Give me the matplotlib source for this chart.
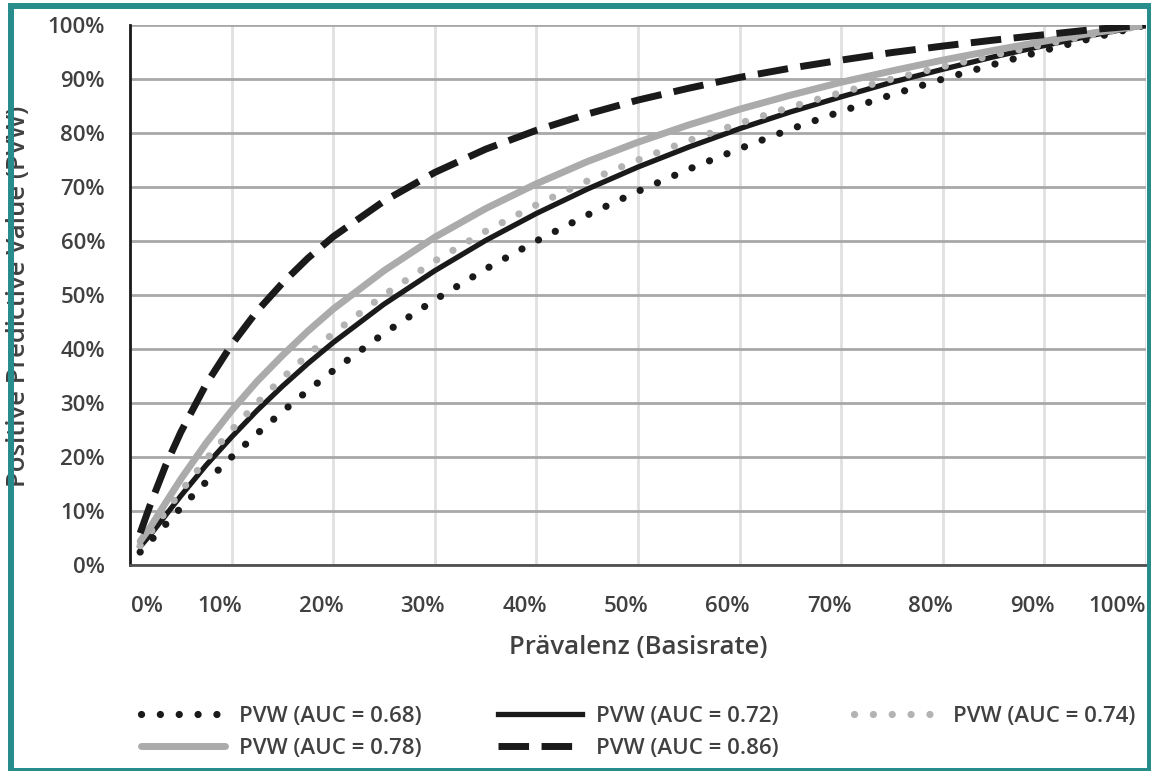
import matplotlib
matplotlib.use('Agg')
from matplotlib import pyplot as plt
from matplotlib.patches import Rectangle
from matplotlib.transforms import ScaledTranslation

prevalence = [0.01, 0.02, 0.035, 0.05, 0.075, 0.10, 0.125, 0.15, 0.175, 0.20,
              0.25, 0.30, 0.35, 0.40, 0.45, 0.50, 0.55, 0.60, 0.65, 0.70,
              0.75, 0.80, 0.85, 0.90, 0.95, 1.00]

# PVW-Werte (in Prozent)
pvw_068 = [2.4, 4.4, 7.5, 10.6, 15.4, 20.0, 24.3, 28.4, 32.3, 36.0,
           42.9, 49.1, 54.8, 60.0, 64.8, 69.2, 73.3, 77.1, 80.7, 84.0,
           87.1, 90.0, 92.7, 95.3, 97.7, 100.0]
pvw_072 = [3.4, 5.6, 9.2, 12.8, 18.5, 23.7, 28.6, 33.1, 37.3, 41.2,
           48.3, 54.5, 60.1, 65.1, 69.6, 73.7, 77.4, 80.8, 83.9, 86.7,
           89.4, 91.8, 94.1, 96.2, 98.2, 100.0]
pvw_074 = [3.6, 6.0, 9.8, 13.6, 19.6, 25.0, 30.0, 34.6, 38.9, 42.9,
           50.0, 56.3, 61.8, 66.7, 71.1, 75.0, 78.6, 81.8, 84.8, 87.5,
           90.0, 92.3, 94.4, 96.4, 98.3, 100.0]
pvw_078 = [4.4, 7.0, 11.5, 15.9, 22.6, 28.6, 34.0, 38.8, 43.3, 47.4,
           54.5, 60.7, 66.0, 70.6, 74.7, 78.3, 81.5, 84.4, 87.0, 89.4,
           91.5, 93.5, 95.3, 97.0, 98.6, 100.0]
pvw_086 = [5.9, 11.2, 18.4, 24.6, 33.5, 40.8, 47.0, 52.2, 56.8, 60.8,
           67.4, 72.7, 77.0, 80.5, 83.5, 86.1, 88.3, 90.3, 92.0, 93.5,
           94.9, 96.1, 97.2, 98.2, 99.2, 100.0]

x_ticks = [0, 10, 20, 30, 40, 50, 60, 70, 80, 90, 100]
y_ticks = [0, 10, 20, 30, 40, 50, 60, 70, 80, 90, 100]
x_labels = [f'{v}%' for v in x_ticks]
y_labels = [f'{v}%' for v in y_ticks]

TEXT = '#404040'
BLACK = '#1a1a1a'
GREY = '#ababab'
TEAL = '#268c8c'

plt.rcParams['font.family'] = ['Open Sans', 'DejaVu Sans']

fig = plt.figure(figsize=(11.51, 7.71), dpi=100)
ax = fig.add_axes([130 / 1151, 1 - 565 / 771, 1016 / 1151, 540 / 771])

xs = [p * 100 for p in prevalence]
h068, = ax.plot(xs, pvw_068, color=BLACK, lw=5.2, linestyle=(0, (0.01, 2.6)),
                dash_capstyle='round', label='PVW (AUC = 0.68)', zorder=3)
h072, = ax.plot(xs, pvw_072, color=BLACK, lw=3.8, label='PVW (AUC = 0.72)', zorder=3)
h074, = ax.plot(xs, pvw_074, color='#b3b3b3', lw=5.2, linestyle=(0, (0.01, 2.6)),
                dash_capstyle='round', label='PVW (AUC = 0.74)', zorder=3)
h078, = ax.plot(xs, pvw_078, color=GREY, lw=5, solid_capstyle='round',
                label='PVW (AUC = 0.78)', zorder=3)
h086, = ax.plot(xs, pvw_086, color=BLACK, lw=5, linestyle=(0, (4.4, 1.8)),
                label='PVW (AUC = 0.86)', zorder=3)

ax.set_xlim(0, 100)
ax.set_ylim(0, 100)
ax.set_xticks(x_ticks)
ax.set_yticks(y_ticks)
ax.set_xticklabels(x_labels)
ax.set_yticklabels(y_labels)
ax.tick_params(axis='both', length=0, labelsize=16, labelcolor=TEXT)
ax.tick_params(axis='x', pad=22)
ax.tick_params(axis='y', pad=18)
for lab in ax.get_xticklabels() + ax.get_yticklabels():
    lab.set_fontweight('semibold')

# Beschriftungen der x-Achse etwas verschoben wie im Original
offsets = [17, -12, -12, -12, -12, -12, -12, -12, -12, -12, -29]
for lab, dx in zip(ax.get_xticklabels(), offsets):
    lab.set_transform(lab.get_transform() + ScaledTranslation(dx / 100, 0, fig.dpi_scale_trans))

ax.yaxis.grid(True, color='#a8a8a8', lw=2)
ax.xaxis.grid(True, color='#e0e0e0', lw=2)
ax.set_axisbelow(True)
for side in ['top', 'right']:
    ax.spines[side].set_visible(False)
ax.spines['left'].set_color(BLACK)
ax.spines['left'].set_linewidth(2)
ax.spines['bottom'].set_color('#505050')
ax.spines['bottom'].set_linewidth(2)

ax.set_xlabel('Prävalenz (Basisrate)', fontsize=18.5, fontweight='semibold',
              color=TEXT, labelpad=13)
fig.text(19 / 1151, 1 - 296 / 771, 'Positive Predictive Value (PVW)', rotation=90,
         fontsize=18.5, fontweight='semibold', color=TEXT, ha='center', va='center')

handles = [h068, h078, h072, h086, h074]
fig.legend(handles=handles, labels=[h.get_label() for h in handles],
           ncol=3, loc='upper left', bbox_to_anchor=(121 / 1151, 1 - 686 / 771),
           frameon=False, handlelength=3.8, handletextpad=0.63,
           columnspacing=3.4, labelspacing=0.5, labelcolor=TEXT,
           prop={'weight': 'semibold', 'size': 16})

# Rahmen
fig.patches.append(Rectangle((11 / 1151, 0), 1139 / 1151, 765 / 771,
                             transform=fig.transFigure, fill=False,
                             edgecolor=TEAL, lw=4.3, zorder=10))

fig.savefig('out.png', dpi=100, facecolor='white')
